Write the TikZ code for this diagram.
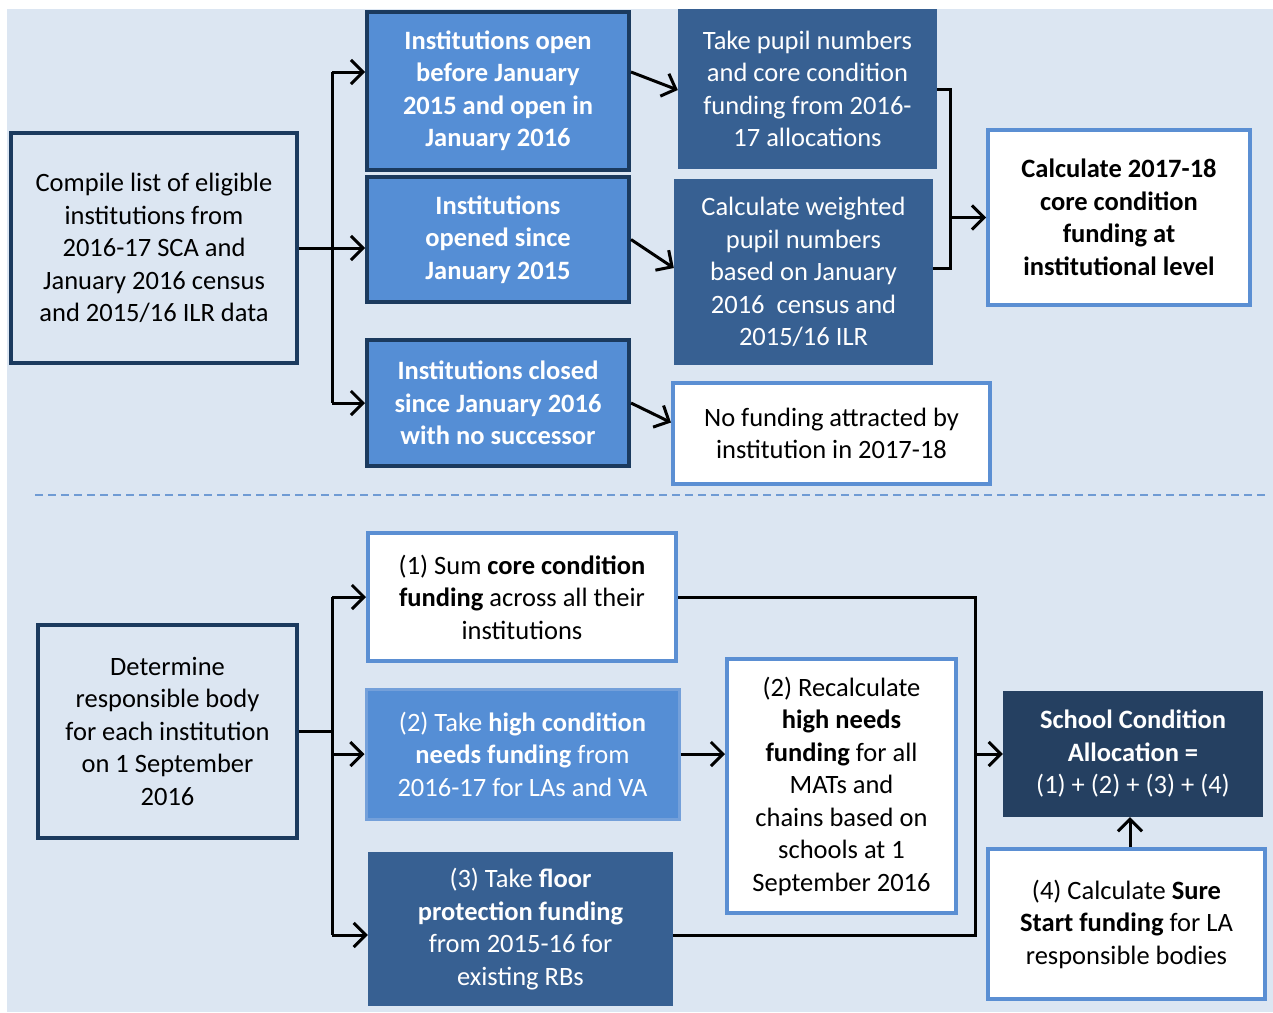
\documentclass[tikz,border=0pt]{standalone}
\usepackage{fontspec}
\setmainfont{Carlito}
\usetikzlibrary{arrows.meta,calc}
\definecolor{bgc}{HTML}{DCE6F2}
\definecolor{midc}{HTML}{558ED5}
\definecolor{darkc}{HTML}{376092}
\definecolor{navyc}{HTML}{1B3A5E}
\definecolor{schoolc}{HTML}{254061}
\definecolor{lightedge}{HTML}{5B8FD3}
\definecolor{dashc}{HTML}{6F9BD4}
\tikzset{
  base/.style={align=center, inner sep=0pt, font=\fontsize{26.5}{32.5}\selectfont},
  navybox/.style={base, draw=navyc, line width=4pt, fill=bgc, text=black},
  midbox/.style={base, draw=navyc, line width=4pt, fill=midc, text=white, font=\fontsize{26.5}{32.5}\selectfont\bfseries},
  darkbox/.style={base, fill=darkc, text=white},
  whitebox/.style={base, draw=lightedge, line width=4pt, fill=white, text=black},
  highbox/.style={base, draw=lightedge!85!white, line width=3pt, fill=midc, text=white},
  schoolbox/.style={base, fill=schoolc, text=white},
  conn/.style={line width=3pt, black},
  arr/.style={conn, -{Straight Barb[length=12pt,width=24pt]}},
}
\begin{document}
\begin{tikzpicture}[x=1pt,y=-1pt]
\useasboundingbox (0,0) rectangle (1273,1012);
\fill[bgc] (7,9) rectangle (1273,1012);

% top section
\node[navybox, minimum width=286, minimum height=230] (compile) at (154,248)
  {Compile list of eligible\\institutions from\\2016-17 SCA and\\January 2016 census\\and 2015/16 ILR data};
\node[midbox, minimum width=262, minimum height=158] (open) at (498,91)
  {Institutions open\\before January\\2015 and open in\\January 2016};
\node[midbox, minimum width=262, minimum height=125] (since) at (498,239.5)
  {Institutions\\opened since\\January 2015};
\node[midbox, minimum width=262, minimum height=126] (closed) at (498,403)
  {Institutions closed\\since January 2016\\with no successor};
\node[darkbox, minimum width=259, minimum height=160] (take) at (807.5,89)
  {Take pupil numbers\\and core condition\\funding from 2016-\\17 allocations};
\node[darkbox, minimum width=259, minimum height=186] (calcw) at (803.5,272)
  {Calculate weighted\\pupil numbers\\based on January\\2016 \ census and\\2015/16 ILR};
\node[whitebox, minimum width=262, minimum height=175, font=\fontsize{26.5}{32.5}\selectfont\bfseries] (calc) at (1119,217.5)
  {Calculate 2017-18\\core condition\\funding at\\institutional level};
\node[whitebox, minimum width=317, minimum height=101] (nofund) at (831.5,433.5)
  {No funding attracted by\\institution in 2017-18};

% top connectors
\coordinate (ja) at (332,72);
\coordinate (jc) at (332,403);
\draw[conn] (ja) -- (jc);
\draw[arr] (compile.east) -- (compile.east -| since.west);
\draw[arr] (ja) -- (ja -| open.west);
\draw[arr] (jc) -- (jc -| closed.west);
\draw[arr] ($(open.east)+(0,-19)$) -- ($(take.west)+(0,1)$);
\draw[arr] (since.east) -- ($(calcw.west)+(0,-4)$);
\draw[arr] (closed.east) -- ($(nofund.west)+(0,-11)$);
\coordinate (br) at (950,217.5);
\draw[conn] (take.east) -| (br) |- ($(calcw.east)+(0,-4)$);
\draw[arr] (br) -- (calc.west);

% separator
\draw[dashc, line width=2pt, dash pattern=on 8pt off 5pt] (35,495) -- (1265,495);

% bottom section
\node[navybox, minimum width=259, minimum height=213] (det) at (167.5,731)
  {Determine\\responsible body\\for each institution\\on 1 September\\2016};
\node[whitebox, minimum width=308, minimum height=128] (sum) at (522,597)
  {(1) Sum \textbf{core condition}\\\textbf{funding} across all their\\institutions};
\node[highbox, minimum width=313, minimum height=130] (high) at (522.5,754)
  {(2) Take \textbf{high condition}\\\textbf{needs funding} from\\2016-17 for LAs and VA};
\node[darkbox, minimum width=305, minimum height=154] (floor) at (520.5,929)
  {(3) Take \textbf{floor}\\\textbf{protection funding}\\from 2015-16 for\\existing RBs};
\node[whitebox, minimum width=229, minimum height=254] (recalc) at (841.5,786)
  {(2) Recalculate\\\textbf{high needs}\\\textbf{funding} for all\\MATs and\\chains based on\\schools at 1\\September 2016};
\node[schoolbox, minimum width=260, minimum height=126] (school) at (1133,754)
  {\textbf{School Condition}\\\textbf{Allocation =}\\(1) + (2) + (3) + (4)};
\node[whitebox, minimum width=277, minimum height=150] (sure) at (1126.5,924)
  {(4) Calculate \textbf{Sure}\\\textbf{Start funding} for LA\\responsible bodies};

% bottom connectors
\coordinate (ka) at (332,597);
\coordinate (kc) at (332,935);
\draw[conn] (ka) -- (kc);
\draw[conn] (det.east) -- (det.east -| ka);
\draw[arr] (ka) -- (ka -| sum.west);
\draw[arr] (high.west -| ka) -- (high.west);
\draw[arr] (kc) -- (kc -| floor.west);
\coordinate (rc) at (975,754);
\draw[conn] (sum.east) -| (rc) |- (kc -| floor.east);
\draw[arr] (high.east) -- (high.east -| recalc.west);
\draw[arr] (rc) -- (school.west);
\coordinate (sp) at ($(sure.north)+(3.5,0)$);
\draw[arr] (sp) -- (sp |- school.south);
\end{tikzpicture}
\end{document}
